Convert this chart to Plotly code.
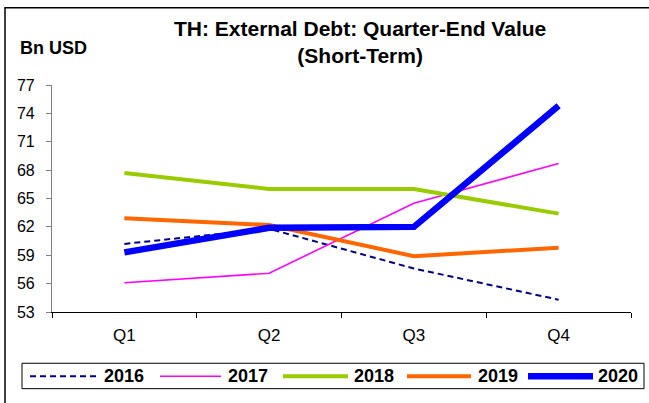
import plotly.graph_objects as go

quarters = ["Q1", "Q2", "Q3", "Q4"]
years = ["2016", "2017", "2018", "2019", "2020"]
v2016 = [60.2, 61.8, 57.6, 54.3]
v2017 = [56.1, 57.1, 64.5, 68.7]
v2018 = [67.7, 66.0, 66.0, 63.4]
v2019 = [62.9, 62.2, 58.9, 59.8]
v2020 = [59.3, 61.9, 62.0, 74.8]
y_ticks = [53, 56, 59, 62, 65, 68, 71, 74, 77]

values = [v2016, v2017, v2018, v2019, v2020]
colors = ["#000080", "#FF00FF", "#99CC00", "#FF6600", "#0000FF"]
widths = [2, 1.6, 4, 4, 6.5]
dashes = ["6px,4px", "solid", "solid", "solid", "solid"]

W, H = 649, 403
L, R, T, B = 52, 631, 84.5, 312.5
FONT = "Liberation Sans, Arial, sans-serif"

def px(x):
    return (x - L) / (R - L)

def py(y):
    return (B - y) / (B - T)

fig = go.Figure()
for name, vals, c, w, d in zip(years, values, colors, widths, dashes):
    fig.add_trace(go.Scatter(
        x=quarters, y=vals, mode="lines", name=name,
        line=dict(color=c, width=w, dash=d),
        showlegend=False, hoverinfo="skip",
    ))

shapes = []
annotations = []
# outer frame (partially off-canvas)
shapes.append(dict(type="rect", xref="paper", yref="paper",
                   x0=px(5), x1=px(700), y0=py(7), y1=py(450),
                   line=dict(color="#000000", width=1.5), fillcolor="rgba(0,0,0,0)"))
# legend box
shapes.append(dict(type="rect", xref="paper", yref="paper",
                   x0=px(22), x1=px(644), y0=py(364), y1=py(389.5),
                   line=dict(color="#000000", width=1), fillcolor="rgba(0,0,0,0)"))
line_x = [(30, 97), (160, 221), (283, 348), (407, 471), (528, 593)]
text_x = [102, 226, 352, 476, 596]
ly = 377
for name, c, w, d, (a, b), tx in zip(years, colors, widths, dashes, line_x, text_x):
    shapes.append(dict(type="line", xref="paper", yref="paper",
                       x0=px(a), x1=px(b), y0=py(ly), y1=py(ly),
                       line=dict(color=c, width=w, dash=d)))
    annotations.append(dict(xref="paper", yref="paper", x=px(tx), y=py(ly),
                            xanchor="left", yanchor="middle", showarrow=False,
                            text="<b>%s</b>" % name,
                            font=dict(family=FONT, size=18, color="#000000")))

annotations.append(dict(xref="paper", yref="paper", x=px(360), y=py(41),
                        xanchor="center", yanchor="middle", showarrow=False,
                        text="<b>TH: External Debt: Quarter-End Value<br>(Short-Term)</b>",
                        font=dict(family=FONT, size=21, color="#000000")))
annotations.append(dict(xref="paper", yref="paper", x=px(18), y=py(47),
                        xanchor="left", yanchor="middle", showarrow=False,
                        text="<b>Bn USD</b>",
                        font=dict(family=FONT, size=18, color="#000000")))

fig.update_layout(
    width=W, height=H,
    margin=dict(l=L, r=W - R, t=T, b=H - B, pad=0),
    paper_bgcolor="#FFFFFF", plot_bgcolor="#FFFFFF",
    showlegend=False,
    shapes=shapes, annotations=annotations,
    font=dict(family=FONT, size=16, color="#000000"),
)
fig.update_xaxes(
    type="category", tickson="boundaries", ticks="outside", ticklen=5,
    tickcolor="#000000", showline=True, linecolor="#000000", linewidth=1.2,
    showgrid=False, zeroline=False, tickfont=dict(family=FONT, size=17),
    ticklabelstandoff=7, range=[-0.5, 3.5],
)
fig.update_yaxes(
    range=[53, 77], tickvals=y_ticks, ticks="outside", ticklen=5,
    tickcolor="#808080", showline=True, linecolor="#808080", linewidth=1.2,
    showgrid=False, zeroline=False, tickfont=dict(family=FONT, size=16),
    ticklabelstandoff=8,
)

fig.write_html("out.html", config={"displayModeBar": False},
               post_script="document.body.style.margin='0';")
